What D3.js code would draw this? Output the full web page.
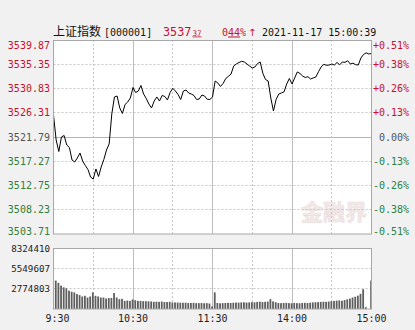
<!DOCTYPE html>
<html><head><meta charset="utf-8">
<script src="https://cdn.jsdelivr.net/npm/d3@7/dist/d3.min.js"></script>
<style>
html,body{margin:0;padding:0;background:#f1f1f1;}
svg{display:block;}
</style></head>
<body>
<svg id="chart" width="415" height="330"></svg>
<script>
// ---------- DATA ----------
const indexName = "上证指数";
const indexCode = "[000001]";
const stampText = "2021-11-17 15:00:39";
const prevClose = 3521.79;
const priceTicks = [3539.87, 3535.35, 3530.83, 3526.31, 3521.79, 3517.27, 3512.75, 3508.23, 3503.71];
const pctTicks = ["+0.51%", "+0.38%", "+0.26%", "+0.13%", "0.00%", "-0.13%", "-0.26%", "-0.38%", "-0.51%"];
const volTicks = [8324410, 5549607, 2774803];
const timeLabels = ["9:30", "10:30", "11:30", "14:00", "15:00"];
const timeLabelSlots = [0, 30, 60, 90, 120];
const solidSlots = [30, 60, 90];
const dashedSlots = [15, 45, 75, 105];

// prices every 2 minutes: 9:30..11:30 (61) then 13:02..15:00 (60)
const prices = [
 3525.89, 3521.23, 3519.09, 3521.79, 3522.07, 3520.30, 3519.83, 3517.50, 3517.13, 3517.88,
 3518.81, 3517.32, 3516.48, 3515.73, 3514.33, 3513.96, 3515.83, 3514.43, 3516.20, 3517.60,
 3519.37, 3520.49, 3526.08, 3529.25, 3529.43, 3527.20, 3526.17, 3527.85, 3528.31, 3529.06,
 3531.02, 3530.08, 3530.36, 3531.39, 3529.80, 3528.97, 3527.94, 3527.20, 3528.50, 3529.25,
 3528.50, 3529.53, 3529.34, 3528.69, 3530.08, 3530.87, 3530.36, 3529.71, 3528.78, 3530.36,
 3530.55, 3529.99, 3529.80, 3529.53, 3528.78, 3528.87, 3529.62, 3529.43, 3528.82, 3528.78,
 3529.25,
 3532.23, 3531.86, 3531.20, 3531.76, 3532.69, 3533.10, 3533.53, 3535.02, 3535.40, 3535.68,
 3535.90, 3535.77, 3535.40, 3535.02, 3534.65, 3534.84, 3535.49, 3535.77, 3533.66, 3532.51,
 3532.23, 3529.06, 3526.64, 3528.78, 3529.80, 3529.99, 3530.21, 3531.67, 3532.69, 3531.67,
 3532.79, 3533.91, 3533.63, 3533.16, 3532.88, 3533.03, 3532.60, 3532.79, 3532.97, 3533.96,
 3534.84, 3535.34, 3535.15, 3535.21, 3535.40, 3535.21, 3535.68, 3535.25, 3535.77, 3535.70,
 3536.01, 3535.40, 3535.55, 3535.27, 3535.21, 3536.51, 3537.17, 3537.48, 3537.26, 3537.37
];
const volumes = [
 8324410, 3880000, 3570000, 3190000, 2960000, 2820000, 2500000, 2360000, 2270000, 2040000,
 1900000, 1710000, 1800000, 1570000, 1710000, 2270000, 1800000, 1710000, 1570000, 1570000,
 1430000, 1500000, 1500000, 2180000, 1570000, 1340000, 1390000, 1110000, 1150000, 1110000,
 1300000, 1200000, 1110000, 1100000, 1070000, 1070000, 1050000, 1030000, 980000, 1000000,
 980000, 1020000, 950000, 950000, 980000, 890000, 900000, 880000, 860000, 850000,
 860000, 820000, 820000, 840000, 800000, 800000, 810000, 780000, 800000, 750000,
 350000,
 2270000, 820000, 780000, 800000, 820000, 840000, 820000, 860000, 880000, 870000,
 900000, 920000, 880000, 900000, 940000, 920000, 970000, 1000000, 960000, 980000,
 1020000, 1350000, 1040000, 920000, 820000, 800000, 820000, 840000, 800000, 780000,
 820000, 800000, 780000, 820000, 840000, 820000, 860000, 900000, 920000, 940000,
 970000, 1000000, 980000, 1020000, 1070000, 1100000, 1140000, 1170000, 1120000, 1220000,
 1320000, 1420000, 1570000, 1670000, 1820000, 2070000, 2700000, 250000, 0, 3880000
];

// ---------- LAYOUT ----------
const L = 53.5, R = 371.5;
const PT = 40, PB = 234;
const VT = 248, VB = 309;
const RED = "#c8102e", GREEN = "#2f8040", GRAY = "#555", GRID = "#c6c6c6";
const MONO = "'DejaVu Sans Mono', 'Liberation Mono', monospace";

const svg = d3.select("#chart");
const x = d3.scaleLinear().domain([0, prices.length - 1]).range([L, R]);
const y = d3.scaleLinear().domain([d3.min(priceTicks), d3.max(priceTicks)]).range([PB, PT]);
const vy = d3.scaleLinear().domain([0, volTicks[0]]).range([VB, VT]);
const crisp = v => Math.round(v - 0.5) + 0.5;

// panels
[[PT, PB], [VT, VB]].forEach(([t, b]) => {
  svg.append("rect").attr("x", L).attr("y", t).attr("width", R - L).attr("height", b - t)
    .attr("fill", "#fff");
});

// watermark
svg.append("text").attr("x", 334).attr("y", 220).attr("text-anchor", "middle")
  .attr("font-family", "'Noto Sans CJK SC'").attr("font-weight", "bold").attr("font-size", 22)
  .attr("fill", "#f3eaea").attr("stroke", "#eadcdc").attr("stroke-width", 0.6)
  .text("金融界");

// horizontal grid (price)
svg.append("g").selectAll("line").data(priceTicks.slice(1, -1)).join("line")
  .attr("x1", L).attr("x2", R)
  .attr("y1", d => crisp(y(d))).attr("y2", d => crisp(y(d)))
  .attr("stroke", d => d === prevClose ? "#b4b4b4" : GRID)
  .attr("stroke-dasharray", d => d === prevClose ? null : "2,2");

// horizontal grid (volume)
svg.append("g").selectAll("line").data(volTicks.slice(1)).join("line")
  .attr("x1", L).attr("x2", R)
  .attr("y1", d => crisp(vy(d))).attr("y2", d => crisp(vy(d)))
  .attr("stroke", GRID).attr("stroke-dasharray", "2,2");

// vertical grid both panels
[[PT, PB], [VT, VB]].forEach(([t, b]) => {
  svg.append("g").selectAll("line").data(dashedSlots).join("line")
    .attr("x1", d => crisp(x(d))).attr("x2", d => crisp(x(d)))
    .attr("y1", t).attr("y2", b).attr("stroke", GRID).attr("stroke-dasharray", "2,2");
  svg.append("g").selectAll("line").data(solidSlots).join("line")
    .attr("x1", d => crisp(x(d))).attr("x2", d => crisp(x(d)))
    .attr("y1", t).attr("y2", b).attr("stroke", "#bdbdbd");
});

// clip for volume bars
svg.append("clipPath").attr("id", "vclip").append("rect")
  .attr("x", L + 0.5).attr("y", VT).attr("width", R - L - 1).attr("height", VB - VT);

// volume bars
svg.append("g").attr("clip-path", "url(#vclip)").selectAll("rect").data(volumes).join("rect")
  .attr("x", (d, i) => x(i) - 1.3).attr("width", 1.8)
  .attr("y", d => vy(d)).attr("height", d => VB - vy(d))
  .attr("fill", "#5f5f5f");

// price line
svg.append("path").datum(prices)
  .attr("d", d3.line().x((d, i) => x(i)).y(d => y(d)))
  .attr("fill", "none").attr("stroke", "#000").attr("stroke-width", 1)
  .attr("stroke-linejoin", "round");

// borders
[[PT, PB], [VT, VB]].forEach(([t, b]) => {
  svg.append("rect").attr("x", L).attr("y", t + 0.5).attr("width", R - L).attr("height", b - t - 0.5)
    .attr("fill", "none").attr("stroke", "#a8a8a8");
});

// price labels (left) and pct labels (right)
const colorOf = d => d > prevClose ? RED : (d < prevClose ? GREEN : GRAY);
const labelDy = (i, n) => i === 0 ? 8.5 : (i === n - 1 ? 0.5 : 3.5);
svg.append("g").selectAll("text").data(priceTicks).join("text")
  .attr("x", 50).attr("y", (d, i) => y(d) + labelDy(i, priceTicks.length))
  .attr("text-anchor", "end").attr("font-family", MONO).attr("font-size", 10)
  .attr("fill", colorOf).text(d => d.toFixed(2));
svg.append("g").selectAll("text").data(pctTicks).join("text")
  .attr("x", 409).attr("y", (d, i) => y(priceTicks[i]) + labelDy(i, pctTicks.length))
  .attr("text-anchor", "end").attr("font-family", MONO).attr("font-size", 10)
  .attr("fill", (d, i) => colorOf(priceTicks[i])).text(d => d);

// volume labels
svg.append("g").selectAll("text").data(volTicks).join("text")
  .attr("x", 50).attr("y", d => vy(d) + 3.5)
  .attr("text-anchor", "end").attr("font-family", MONO).attr("font-size", 9.2)
  .attr("fill", "#222").text(d => d);

// time labels
svg.append("g").selectAll("text").data(timeLabels).join("text")
  .attr("x", (d, i) => x(timeLabelSlots[i]) + (i === 0 ? 4 : 0)).attr("y", 322)
  .attr("text-anchor", "middle").attr("font-family", MONO).attr("font-size", 10)
  .attr("fill", "#222").text(d => d);

// header
const last = prices[prices.length - 1];
const pct = (last - prevClose) / prevClose * 100;
const [pInt, pDec] = last.toFixed(2).split(".");
const [cInt, cDec] = pct.toFixed(2).split(".");
svg.append("text").attr("x", 53).attr("y", 36)
  .attr("font-family", "'Noto Sans CJK SC'").attr("font-size", 12).attr("fill", "#111")
  .text(indexName);
svg.append("text").attr("x", 104).attr("y", 35.5)
  .attr("font-family", MONO).attr("font-size", 10).attr("fill", "#111").text(indexCode);
const hp = svg.append("text").attr("x", 163).attr("y", 35.5)
  .attr("font-family", MONO).attr("fill", last >= prevClose ? RED : GREEN);
hp.append("tspan").attr("font-size", 11.8).text(pInt);
hp.append("tspan").attr("font-size", 7.6).attr("dx", 1).style("text-decoration", "underline").text(pDec);
const hc = svg.append("text").attr("x", 222).attr("y", 35.5)
  .attr("font-family", MONO).attr("font-size", 10).attr("fill", pct >= 0 ? RED : GREEN);
hc.append("tspan").text(cInt);
hc.append("tspan").style("text-decoration", "underline").text(cDec);
hc.append("tspan").text("%");
hc.append("tspan").attr("dx", 2).attr("font-family", "'DejaVu Sans'").text(pct >= 0 ? "↑" : "↓");
svg.append("text").attr("x", 262).attr("y", 35.5)
  .attr("font-family", MONO).attr("font-size", 10).attr("fill", "#111").text(stampText);
</script>
</body></html>
